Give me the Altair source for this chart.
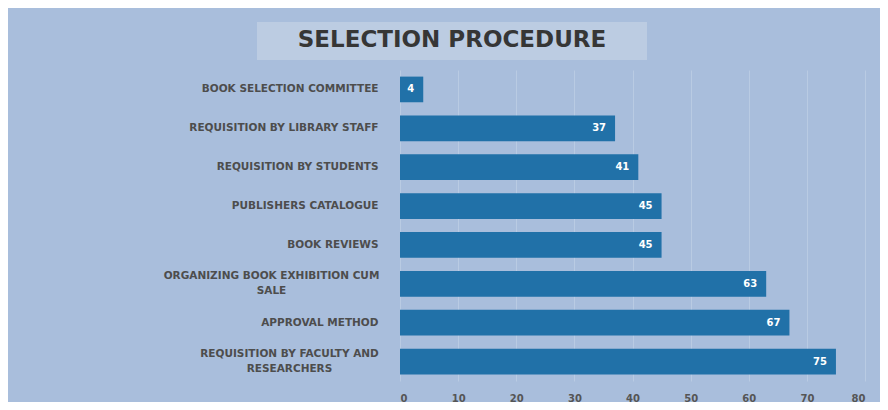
import altair as alt
import pandas as pd

# ---- data ----
categories = [
    "BOOK SELECTION COMMITTEE",
    "REQUISITION BY LIBRARY STAFF",
    "REQUISITION BY STUDENTS",
    "PUBLISHERS CATALOGUE",
    "BOOK REVIEWS",
    "ORGANIZING BOOK EXHIBITION CUM SALE",
    "APPROVAL METHOD",
    "REQUISITION BY FACULTY AND RESEARCHERS",
]
values = [4, 37, 41, 45, 45, 63, 67, 75]
x_ticks = [0, 10, 20, 30, 40, 50, 60, 70, 80]
title_text = ["SELECTION PROCEDURE"]
label_breaks = {
    "ORGANIZING BOOK EXHIBITION CUM SALE": ["ORGANIZING BOOK EXHIBITION CUM", "SALE"],
    "REQUISITION BY FACULTY AND RESEARCHERS": ["REQUISITION BY FACULTY AND", "RESEARCHERS"],
}
# distance from axis to centre of each wrapped label block
wrapped_centre_pad = {
    "ORGANIZING BOOK EXHIBITION CUM SALE": 129,
    "REQUISITION BY FACULTY AND RESEARCHERS": 111,
}

df = pd.DataFrame({"category": categories, "value": values})

# label expression for wrapped labels
expr = "datum.label"
for k, parts in label_breaks.items():
    arr = "[" + ", ".join("'" + p + "'" for p in parts) + "]"
    expr = f"datum.label == '{k}' ? {arr} : ({expr})"
multi_test = " || ".join(f"datum.value == '{k}'" for k in label_breaks)
pad_conditions = [
    {"test": f"datum.value == '{k}'", "value": v} for k, v in wrapped_centre_pad.items()
]

BG = "#a9bedc"
BOX = "#bccce2"
BAR = "#2171a8"

y_enc = alt.Y(
    "category:N",
    sort=categories,
    scale=alt.Scale(paddingInner=0.34, paddingOuter=0.17),
    axis=alt.Axis(
        title=None,
        labelExpr=expr,
        labelFont="DejaVu Sans",
        labelFontWeight="bold",
        labelFontSize=10.5,
        labelColor="#4d4d4d",
        labelPadding={"condition": pad_conditions, "value": 22},
        labelAlign={"condition": {"test": multi_test, "value": "center"}, "value": "right"},
        labelLineHeight=15,
        labelLimit=400,
        labelOffset={"condition": {"test": multi_test, "value": -7.5}, "value": 0},
        ticks=False,
        domain=False,
        grid=False,
    ),
)

x_enc = alt.X(
    "value:Q",
    scale=alt.Scale(domain=[0, 80], nice=False),
    axis=alt.Axis(
        title=None,
        values=x_ticks,
        labelFont="DejaVu Sans",
        labelFontWeight="bold",
        labelFontSize=10,
        labelColor="#555555",
        labelPadding=12,
        ticks=False,
        domain=False,
        grid=True,
        gridColor="#b9cbe3",
        gridWidth=1,
    ),
)

bars = alt.Chart(df).mark_bar(color=BAR).encode(x=x_enc, y=y_enc)

labels = alt.Chart(df).mark_text(
    align="right",
    baseline="middle",
    dx=-9,
    color="white",
    font="DejaVu Sans",
    fontWeight="bold",
    fontSize=10,
).encode(x="value:Q", y=alt.Y("category:N", sort=categories), text="value:Q")

title_df = pd.DataFrame({"t": title_text})

title_box = alt.Chart(title_df).mark_rect(color=BOX).encode(
    x=alt.value(-143), x2=alt.value(247), y=alt.value(-48), y2=alt.value(-10)
)

title_mark = alt.Chart(title_df).mark_text(
    align="center",
    baseline="middle",
    font="DejaVu Sans",
    fontSize=23,
    fontWeight="bold",
    color="#363636",
).encode(x=alt.value(52), y=alt.value(-30), text="t:N")

chart = (
    alt.layer(title_box, title_mark, bars, labels)
    .properties(
        width=465,
        height=311,
        background=BG,
        autosize=alt.AutoSizeParams(type="none"),
        padding={"left": 392, "top": 62, "right": 15, "bottom": 21},
    )
    .configure_view(stroke=None)
)

chart.save("out.html", embed_options={"renderer": "svg", "actions": False})
